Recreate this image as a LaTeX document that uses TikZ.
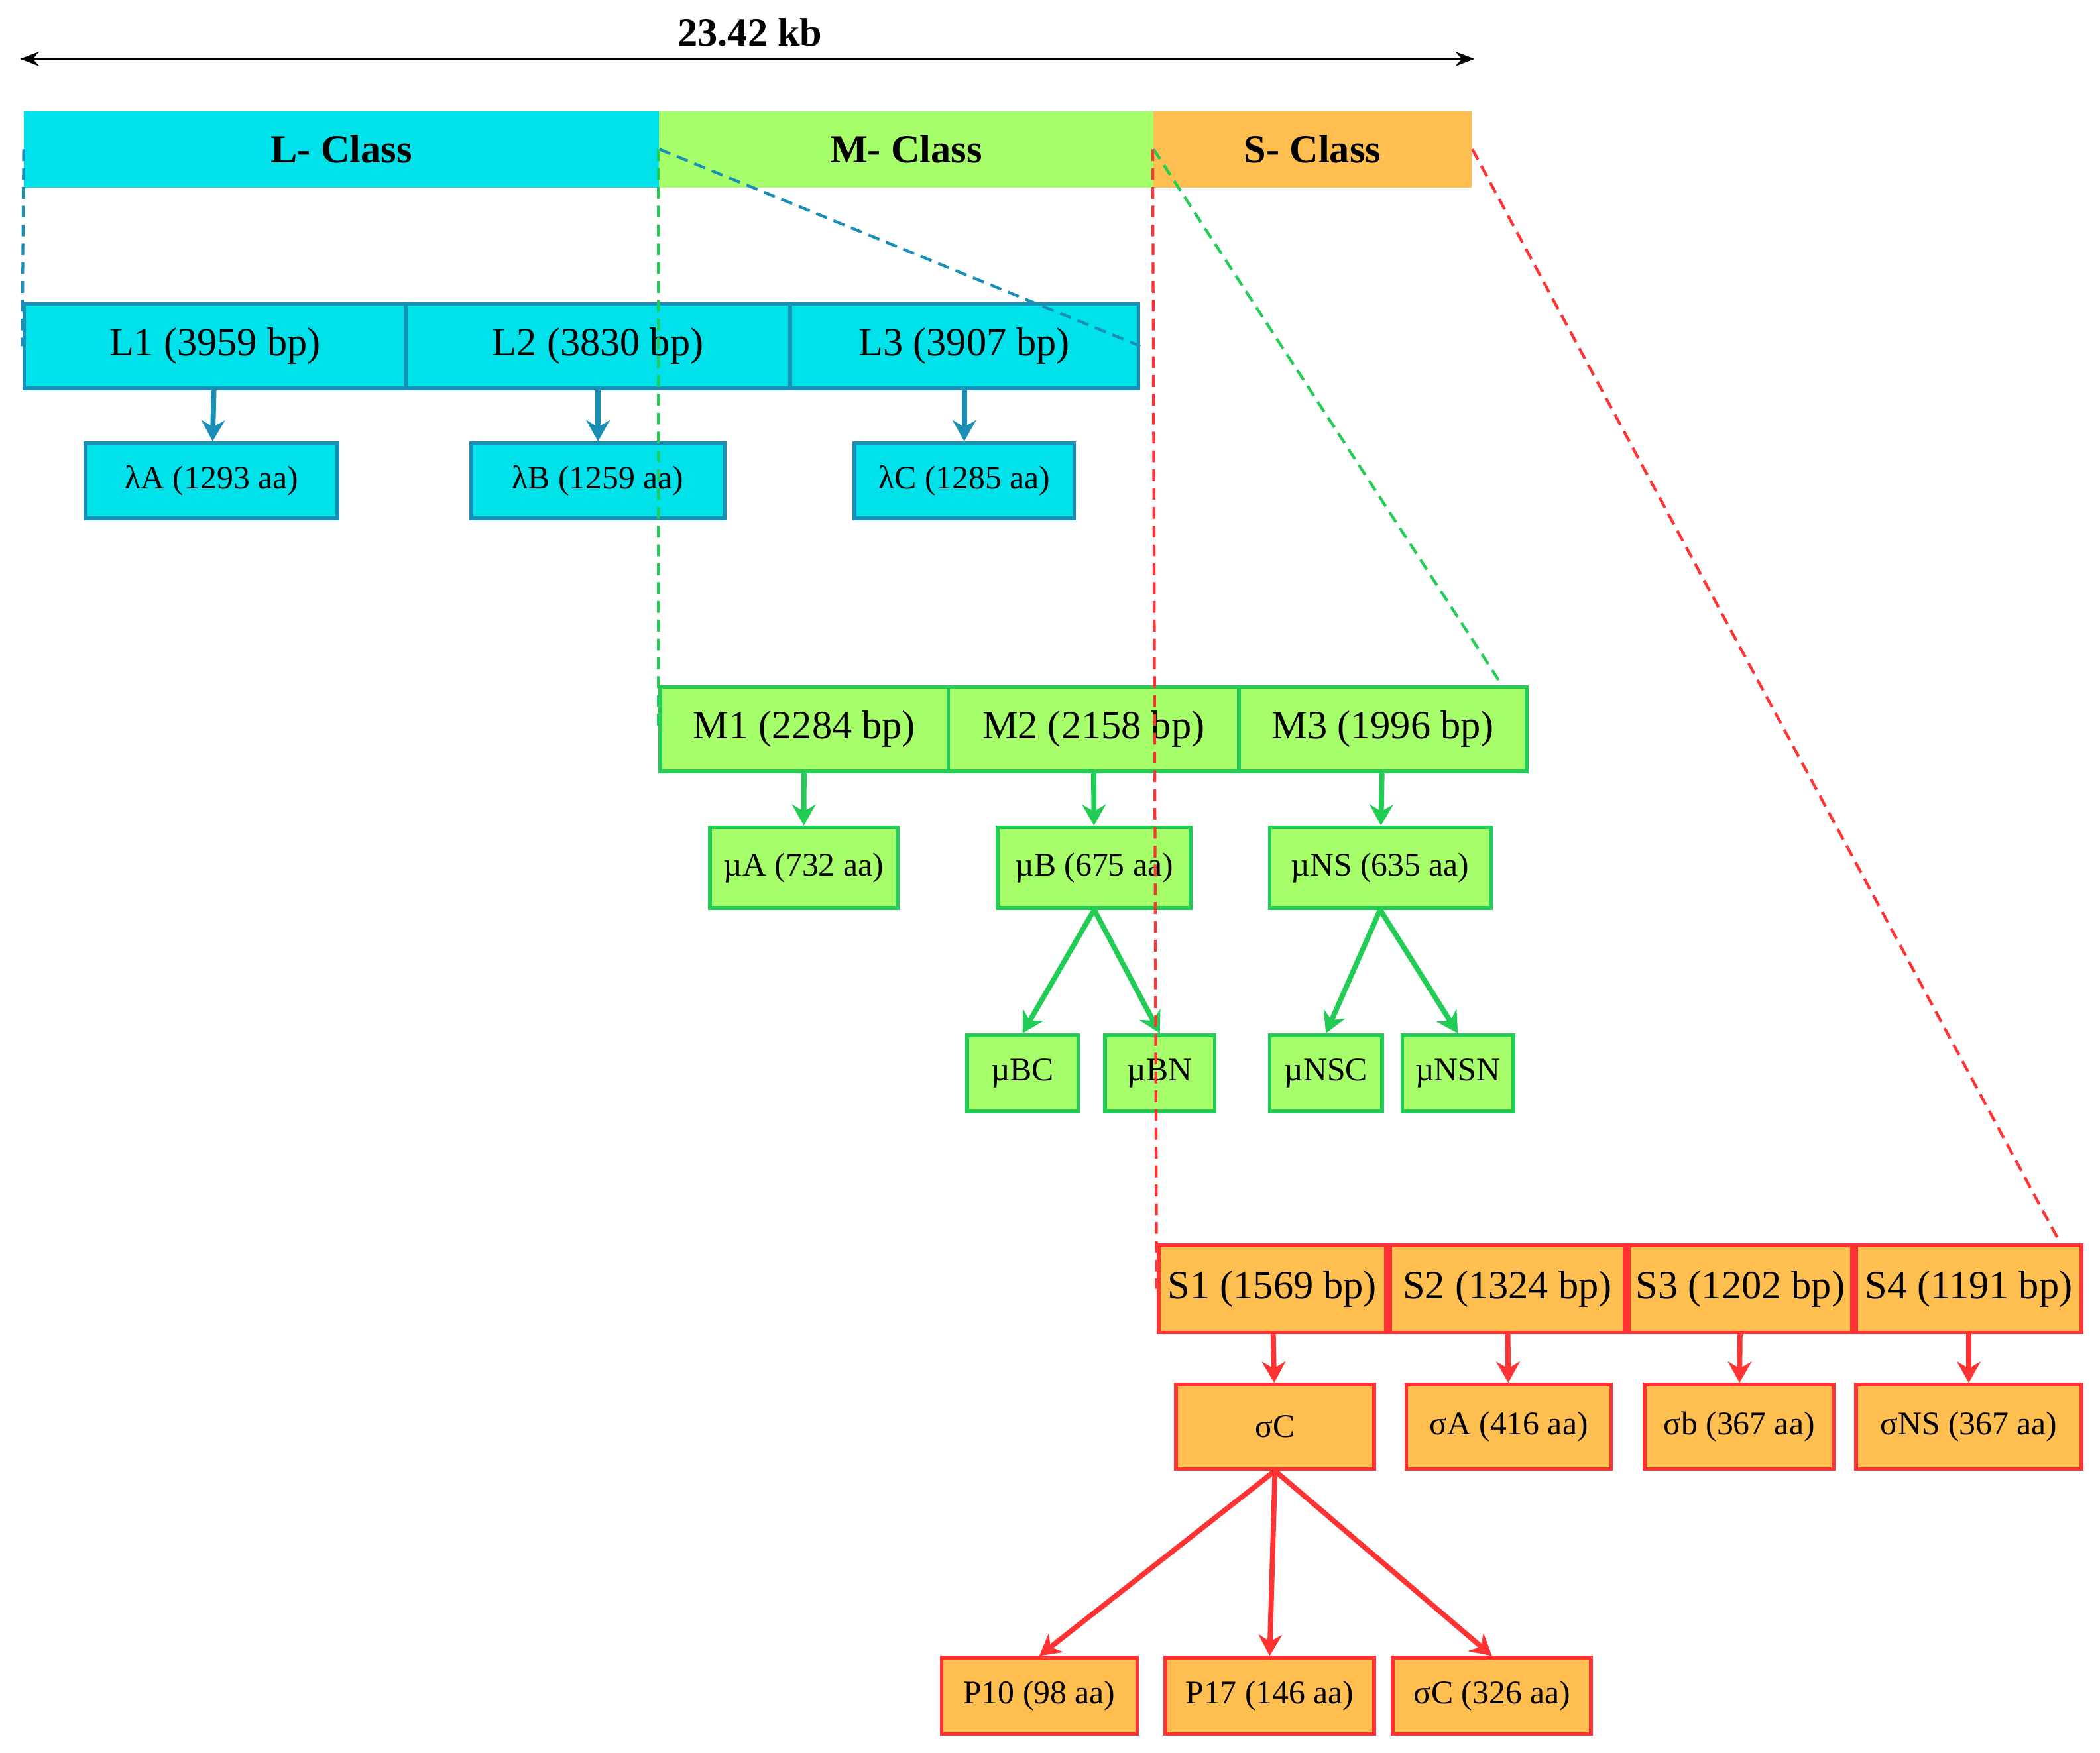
\documentclass[tikz,border=0pt]{standalone}
\usepackage{fontspec}
\setmainfont{Liberation Serif}
\usetikzlibrary{arrows.meta}
\definecolor{cy}{HTML}{00E1E9}
\definecolor{cyb}{HTML}{1A8FB5}
\definecolor{gr}{HTML}{A6FF6A}
\definecolor{grb}{HTML}{22CC55}
\definecolor{or}{HTML}{FFBE50}
\definecolor{orb}{HTML}{FF3333}
\newcommand\bx[7]{\node[#6,minimum width={(#4-#2)*0.02cm},minimum height={(#5-#3)*0.02cm}] (#1) at ({(#2+#4)/2},{(#3+#5)/2}) {#7};}
\begin{document}
\begin{tikzpicture}[x=0.02cm,y=-0.02cm,
 base/.style={draw,inner sep=0pt,line width=1.6pt},
 bar/.style={inner sep=0pt,font=\fontsize{17}{17}\selectfont\bfseries},
 Lb/.style={base,fill=cy,draw=cyb,font=\fontsize{17}{17}\selectfont},
 Lp/.style={base,fill=cy,draw=cyb,font=\fontsize{14}{14}\selectfont},
 Mb/.style={base,fill=gr,draw=grb,font=\fontsize{17}{17}\selectfont},
 Mp/.style={base,fill=gr,draw=grb,font=\fontsize{14}{14}\selectfont},
 Sb/.style={base,fill=or,draw=orb,font=\fontsize{17}{17}\selectfont},
 Sp/.style={base,fill=or,draw=orb,font=\fontsize{14}{14}\selectfont},
 ar/.style={line width=2.2pt,-{Stealth[length=9pt,width=10pt]}},
 dsh/.style={dashed,line width=1.2pt,dash pattern=on 5pt off 3pt}]
\useasboundingbox (0,0) rectangle (1568,1309);
% scale
\coordinate (a1) at (15,44); \coordinate (a2) at (1101,44);
\draw[line width=1.3pt,{Stealth[length=8pt]}-{Stealth[length=8pt]}] (a1) -- (a2);
\node[font=\fontsize{17}{17}\selectfont\bfseries] (kb) at (560,24) {23.42 kb};
% classes
\bx{Lc}{18}{83}{492}{140}{bar,fill=cy}{L- Class}
\bx{Mc}{492}{83}{861}{140}{bar,fill=gr}{M- Class}
\bx{Sc}{861}{83}{1099}{140}{bar,fill=or}{S- Class}
% L
\bx{L1}{18}{227}{303}{290}{Lb}{L1 (3959 bp)}
\bx{L2}{303}{227}{590}{290}{Lb}{L2 (3830 bp)}
\bx{L3}{590}{227}{850}{290}{Lb}{L3 (3907 bp)}
\bx{lA}{64}{331}{252}{387}{Lp}{λA (1293 aa)}
\bx{lB}{352}{331}{541}{387}{Lp}{λB (1259 aa)}
\bx{lC}{638}{331}{802}{387}{Lp}{λC (1285 aa)}
\foreach \a/\b in {L1/lA,L2/lB,L3/lC} \draw[ar,cyb] (\a) -- (\b);
% M
\bx{M1}{493}{513}{708}{576}{Mb}{M1 (2284 bp)}
\bx{M2}{708}{513}{925}{576}{Mb}{M2 (2158 bp)}
\bx{M3}{925}{513}{1140}{576}{Mb}{M3 (1996 bp)}
\bx{mA}{530}{618}{670}{678}{Mp}{µA (732 aa)}
\bx{mB}{745}{618}{889}{678}{Mp}{µB (675 aa)}
\bx{mNS}{948}{618}{1113}{678}{Mp}{µNS (635 aa)}
\bx{mBC}{722}{773}{805}{830}{Mp}{µBC}
\bx{mBN}{825}{773}{907}{830}{Mp}{µBN}
\bx{mNSC}{948}{773}{1032}{830}{Mp}{µNSC}
\bx{mNSN}{1047}{773}{1130}{830}{Mp}{µNSN}
\foreach \a/\b in {M1/mA,M2/mB,M3/mNS} \draw[ar,grb] (\a) -- (\b);
\foreach \a/\b in {mB/mBC,mB/mBN,mNS/mNSC,mNS/mNSN} \draw[ar,grb] (\a.south) -- (\b.north);
% S
\bx{S1}{865}{930}{1035}{995}{Sb}{S1 (1569 bp)}
\bx{S2}{1038}{930}{1213}{995}{Sb}{S2 (1324 bp)}
\bx{S3}{1216}{930}{1383}{995}{Sb}{S3 (1202 bp)}
\bx{S4}{1386}{930}{1554}{995}{Sb}{S4 (1191 bp)}
\bx{sC}{878}{1034}{1026}{1097}{Sp}{σC}
\bx{sA}{1050}{1034}{1203}{1097}{Sp}{σA (416 aa)}
\bx{sb}{1228}{1034}{1369}{1097}{Sp}{σb (367 aa)}
\bx{sNS}{1386}{1034}{1554}{1097}{Sp}{σNS (367 aa)}
\bx{P10}{703}{1238}{849}{1295}{Sp}{P10 (98 aa)}
\bx{P17}{870}{1238}{1026}{1295}{Sp}{P17 (146 aa)}
\bx{sC2}{1040}{1238}{1188}{1295}{Sp}{σC (326 aa)}
\foreach \a/\b in {S1/sC,S2/sA,S3/sb,S4/sNS} \draw[ar,orb] (\a) -- (\b);
\foreach \b in {P10,P17,sC2} \draw[ar,orb] (sC.south) -- (\b.north);
% dashed zoom lines
\draw[dsh,cyb] (Lc.west) -- (L1.west);
\draw[dsh,cyb] (Lc.east) -- (L3.east);
\draw[dsh,grb] (Mc.west) -- (M1.west);
\draw[dsh,grb] (Mc.east) -- ([xshift=-0.4cm]M3.north east);
\draw[dsh,orb] (Sc.west) -- (S1.west);
\draw[dsh,orb] (Sc.east) -- ([xshift=-0.34cm]S4.north east);
\end{tikzpicture}
\end{document}
